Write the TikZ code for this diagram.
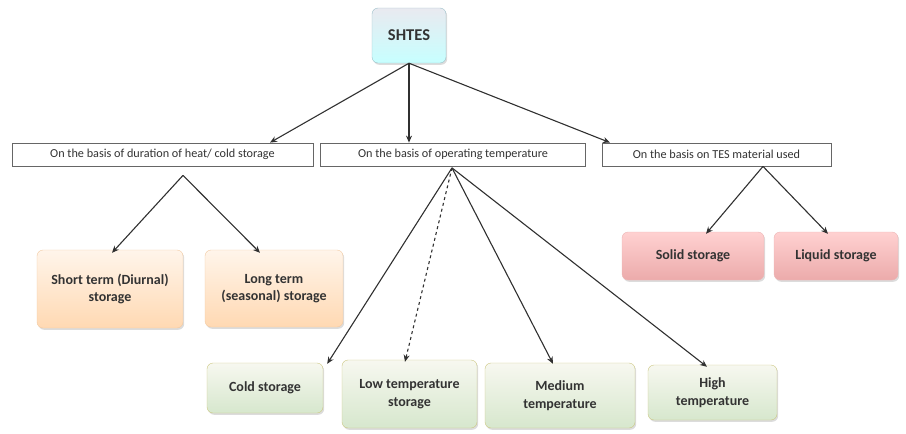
\documentclass[tikz,border=0pt]{standalone}
\usepackage{fontspec}
\setmainfont{Carlito}
\usetikzlibrary{arrows.meta,shadows,calc}
\definecolor{txt}{HTML}{333333}
\definecolor{ln}{HTML}{303030}
\begin{document}
\begin{tikzpicture}[x=1pt,y=-1pt,
  box/.style={rounded corners=6pt, align=center, inner sep=2pt, text=txt,
    font=\fontsize{14}{17.5}\selectfont\bfseries,
    drop shadow={opacity=0.28, shadow xshift=1.2pt, shadow yshift=-1.8pt}},
  topbox/.style={box, draw=blue!20!cyan!30!gray!60, top color=cyan!6!blue!3!white!88!gray, bottom color=cyan!22!white, minimum width=74pt, minimum height=55pt, font=\fontsize{16.5}{19}\selectfont\bfseries},
  basis/.style={draw=gray!80!black, line width=0.8pt, fill=white, text=txt, minimum height=23pt, inner sep=1pt, font=\fontsize{12.2}{14}\selectfont},
  orangebox/.style={box, draw=orange!35!white!90!gray, top color=orange!8!white, bottom color=orange!30!white},
  greenbox/.style={box, draw=olive!40!white!90!gray, top color=green!4!olive!6!white, bottom color=olive!36!green!12!white!85!gray},
  pinkbox/.style={box, draw=red!25!white!85!gray, top color=red!18!white, bottom color=red!30!white!85!gray},
  conn/.style={ln, line width=1.1pt, -{Stealth[length=7pt,width=6pt]}}
]
\useasboundingbox (0,0) rectangle (906,434);

\node[topbox] (shtes) at (409,35.5) {SHTES};

\node[basis, minimum width=301pt] (b1) at (162.5,154.5) {On the basis of duration of heat/ cold storage};
\node[basis, minimum width=265pt] (b2) at (453,154.5) {On the basis of operating temperature};
\node[basis, minimum width=229pt] (b3) at (716.5,154.5) {On the basis on TES material used};

\node[orangebox, minimum width=146pt, minimum height=78pt] (short) at (110,289) {Short term (Diurnal)\\storage};
\node[orangebox, minimum width=138pt, minimum height=77pt] (long) at (274,288.5) {Long term\\(seasonal) storage};

\node[pinkbox, minimum width=142pt, minimum height=48pt] (solid) at (693,256) {Solid storage};
\node[pinkbox, minimum width=124pt, minimum height=48pt] (liquid) at (836,256) {Liquid storage};

\node[greenbox, minimum width=116pt, minimum height=50pt] (cold) at (265,388) {Cold storage};
\node[greenbox, minimum width=135pt, minimum height=68pt] (low) at (409.5,394) {Low temperature\\storage};
\node[greenbox, minimum width=150pt, minimum height=65pt] (med) at (560,395.5) {Medium\\temperature};
\node[greenbox, minimum width=129pt, minimum height=55pt] (high) at (712.5,392.5) {High\\temperature};

% top level
\draw[conn] (shtes.south) -- ([xshift=107.5pt]b1.north);
\draw[conn] (shtes.south) -- (b2.north -| shtes.south);
\draw[conn] (shtes.south) -- ([xshift=-106.5pt]b3.north);

% duration
\coordinate (a1) at ([xshift=20.5pt,yshift=-9pt]b1.south);
\draw[conn] (a1) -- ([xshift=2pt,yshift=-3pt]short.north);
\draw[conn] (a1) -- ([xshift=-14pt,yshift=-3pt]long.north);

% material
\coordinate (a3) at ([xshift=46.5pt]b3.south);
\draw[conn] (a3) -- ([xshift=13pt,yshift=-2pt]solid.north);
\draw[conn] (a3) -- ([xshift=-8pt,yshift=-2pt]liquid.north);

% temperature
\coordinate (a2) at ([xshift=-1pt,yshift=-1.5pt]b2.south);
\draw[conn] (a2) -- ([xshift=4pt,yshift=-1pt]cold.north east);
\draw[conn, dashed] (a2) -- ([xshift=-4.5pt,yshift=-2pt]low.north);
\draw[conn] (a2) -- ([xshift=-7pt,yshift=-1pt]med.north);
\draw[conn] (a2) -- ([xshift=-5.5pt,yshift=-2pt]high.north);
\end{tikzpicture}
\end{document}
